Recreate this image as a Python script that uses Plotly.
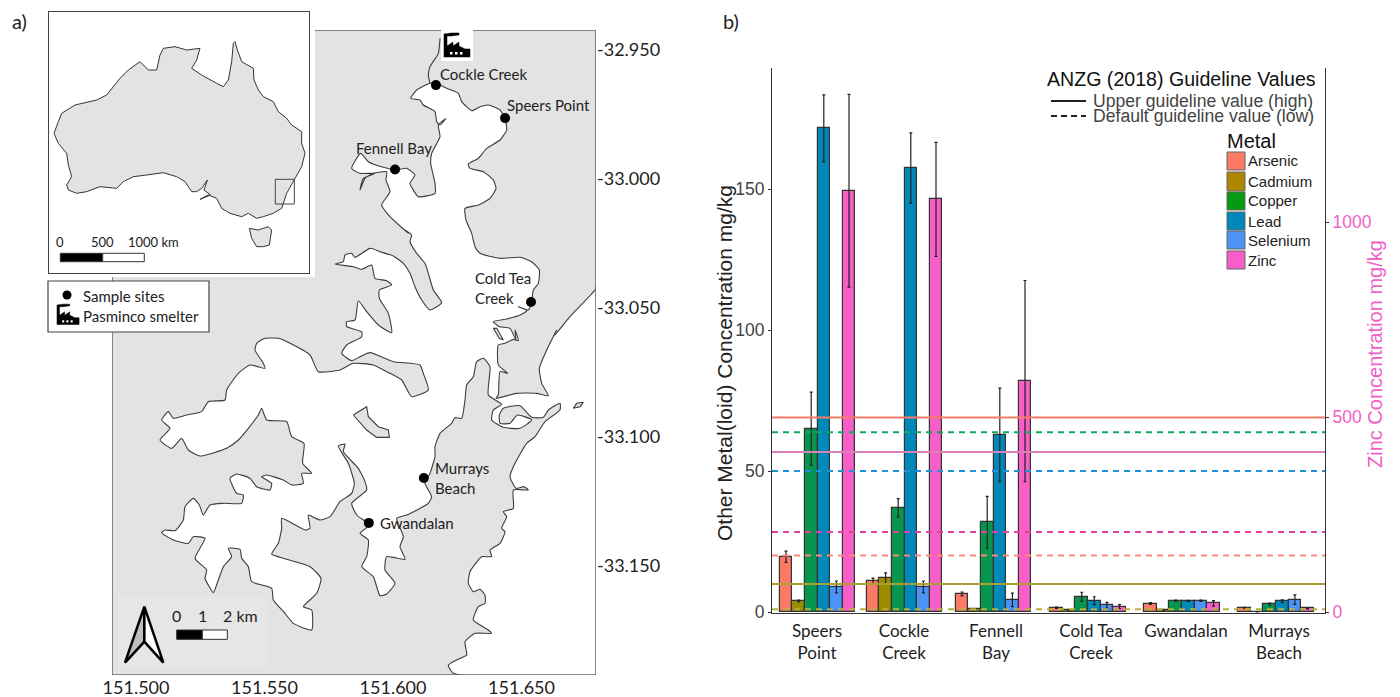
import plotly.graph_objects as go

W, H = 1400, 697

# ---------- bar chart data ----------
sites = ["Speers Point", "Cockle Creek", "Fennell Bay", "Cold Tea Creek", "Gwandalan", "Murrays Beach"]
site_ticktext = ["Speers<br>Point", "Cockle<br>Creek", "Fennell<br>Bay", "Cold Tea<br>Creek", "Gwandalan<br>&nbsp;", "Murrays<br>Beach"]
metals = ["Arsenic", "Cadmium", "Copper", "Lead", "Selenium", "Zinc"]

arsenic = [19.6, 10.9, 6.4, 1.5, 3.0, 1.5]
arsenic_err = [2.0, 1.1, 0.7, 0.2, 0.3, 0.15]
cadmium = [3.9, 12.0, 1.1, 0.7, 0.7, 0.1]
cadmium_err = [0.3, 1.9, 0.1, 0.1, 0.1, 0.05]
copper = [65.0, 36.9, 31.8, 5.4, 4.0, 2.8]
copper_err = [13.0, 3.3, 9.2, 1.6, 0.2, 0.4]
lead = [171.5, 157.4, 62.8, 4.0, 3.9, 3.8]
lead_err = [11.9, 12.5, 16.6, 1.4, 0.2, 0.5]
selenium = [8.9, 8.9, 4.3, 2.4, 4.0, 4.4]
selenium_err = [2.1, 2.1, 2.4, 1.0, 0.2, 1.7]
zinc = [1080, 1058, 592, 14, 22, 9]
zinc_err = [247, 146, 258, 5, 7, 1]

arsenic_guides = [69, 20]
cadmium_guides = [9.9, 1.0]
copper_guides = [63.7]
lead_guides = [50]
zinc_guides = [410, 205]

colors = dict(Arsenic="#fb7a66", Cadmium="#9c8c00", Copper="#07964f", Lead="#0088b8", Selenium="#4c93f5", Zinc="#f85ec8")
legend_colors = ["#fb7a66", "#ad8500", "#059a10", "#0088b8", "#4c93f5", "#f85ec8"]

# ---------- map data (digitised shoreline, image-grid points georeferenced below) ----------
site_lon = [151.6436, 151.6167, 151.6008, 151.6537, 151.5906, 151.6120]
site_lat = [-32.9764, -32.9636, -32.9963, -33.0477, -33.1333, -33.1159]

north_east = [(270,190),(290,190),(320,205),(355,220),(365,245),(395,272),(420,260),(445,255),(480,270),(495,295),(500,330),(480,360),(440,385),(415,415),(385,432),(390,445),(430,455),(460,480),(468,505),(450,535),(415,555),(375,565),(378,600),(395,640),(405,680),(420,700),(480,715),(540,712),(575,725),(598,750),(595,790),(580,810),(575,845),(565,870),(535,860),(560,872),(540,885),(500,897),(460,905),(478,920),(510,925),(528,960)]
swansea_west = [(135,0),(145,32),(130,28),(105,40),(85,45),(85,105),(113,130),(90,125),(85,195),(78,205),(140,190),(200,190),(235,197),(215,160),(208,115),(230,60),(260,0)]
ocean_top = [(640,950),(690,890),(765,810)]
east_coast = [(100,1000),(85,975),(110,960),(140,945),(135,905),(165,880),(215,880),(205,870),(160,840),(175,800),(195,790),(195,765),(180,748),(160,755),(145,730),(150,695),(185,650),(215,650),(210,630),(240,610),(255,575),(245,565),(260,530),(250,515),(280,505),(280,450),(325,450),(312,440),(288,445),(270,410),(280,380),(320,310),(345,290),(375,245),(420,210),(420,190),(385,210),(370,232),(335,232),(300,197),(250,205),(238,225),(240,250),(270,250),(292,225),(335,240),(300,265),(250,262),(215,240),(220,210),(245,193),(205,165),(210,80),(190,55),(170,65),(160,110),(140,135),(135,180),(125,235),(105,233),(95,250),(60,280),(45,320),(45,350),(30,400),(15,430),(35,470),(25,490)]
south_west = [(890,525),(860,535),(880,590),(870,620),(885,658),(830,650),(825,690),(855,730),(830,762),(810,767),(790,710),(755,680),(770,650),(775,600),(750,580),(778,555),(740,525),(725,490),(770,450),(765,425),(745,385),(700,335),(705,312),(685,318),(715,370),(733,430),(725,460),(690,485),(660,530),(630,540),(595,525),(600,565),(585,570),(515,535),(515,565),(505,610),(485,642),(520,655),(600,680),(633,715),(620,760),(580,800),(605,810),(605,870),(550,850),(525,820),(490,780),(485,745),(425,725),(415,680),(395,655),(390,628),(355,625),(365,650),(340,680),(325,720),(310,758),(295,735),(285,715),(290,690),(255,655),(285,595),(250,590),(235,610),(190,600),(155,578),(165,570),(195,572),(220,540),(225,500),(250,475),(268,495),(280,525),(300,495),(340,490),(395,490),(400,465),(380,460),(360,415),(380,402),(420,415),(440,440),(480,450),(485,430),(455,410),(470,405),(520,420),(545,435),(580,430),(575,400),(605,400),(578,370),(582,310),(545,290),(530,245),(470,240),(455,205),(445,225),(415,265),(385,300),(350,325),(270,348),(235,330),(215,295),(185,325),(150,300),(180,265),(155,240),(175,215),(190,235),(230,225),(275,215),(295,185),(345,180),(350,150),(385,100),(420,75),(465,85),(460,70),(435,30),(440,10),(465,-5),(505,-5)]
spit_a = [(0,340),(60,375),(85,425),(150,420),(190,400),(250,405),(290,425),(335,450)]
spit_b = [(905,170),(955,150)]
spit_c = [(400,430),(390,405),(310,395),(240,368),(210,380),(185,392),(155,370),(170,345),(215,320),(215,305),(170,290),(170,275),(195,270),(205,212),(230,245),(265,285),(305,308),(295,250),(268,205),(268,180),(305,165),(290,152),(255,145),(245,105),(215,118),(190,110),(135,102),(160,95),(165,75),(185,70),(195,82),(240,55),(270,65),(310,78),(340,100),(360,130),(375,170),(395,210),(420,240),(455,218),(430,180),(415,130),(405,100),(380,70),(360,35),(365,15),(345,0)]
north_west = [(205,640),(150,590),(125,555),(150,515),(138,480),(140,455),(100,460),(75,475),(60,510),(70,475),(105,460),(60,460),(35,445),(62,400),(85,425),(130,442),(165,450),(200,445),(225,465),(210,490),(235,530),(285,520),(285,490),(272,430),(275,400),(300,350),(295,315),(318,295),(300,315),(290,305),(285,275),(250,255),(240,240),(212,235),(230,210),(270,190)]
creek = [(300,55),(295,100),(270,140),(265,165),(270,190)]
lake_island = [(730,225),(770,200),(775,230),(805,260),(835,270),(838,292),(800,292),(770,270),(730,225)]
ocean_island = [(460,205),(470,190),(490,187),(480,200),(460,205)]
sliver = [(460,925),(470,925),(490,960),(478,955),(460,925)]

# ---------- inset data ----------
australia = [(705,125),(712,150),(725,185),(760,205),(762,240),(775,270),(790,290),(820,305),(835,335),(860,355),(875,375),(905,395),(905,430),(915,460),(905,500),(885,535),(860,580),(845,625),(820,640),(790,650),(770,655),(745,640),(725,650),(690,640),(665,625),(650,595),(625,585),(600,598),(632,585),(612,570),(622,540),(605,565),(590,575),(575,575),(555,545),(530,530),(490,518),(440,525),(400,530),(370,545),(350,565),(300,560),(260,575),(230,580),(205,570),(200,555),(215,530),(205,495),(200,460),(175,430),(162,400),(175,365),(185,340),(225,315),(290,300),(320,285),(340,260),(360,235),(385,210),(420,185),(445,210),(470,210),(480,165),(490,145),(525,140),(560,150),(600,145),(590,180),(575,205),(605,225),(650,250),(670,260),(685,240),(695,185),(700,130),(705,125)]
tasmania = [(748,685),(775,690),(805,680),(815,690),(808,735),(790,740),(770,740),(755,715),(748,685)]
study_box = [(826,538),(883,538),(883,612),(826,612),(826,538)]


# ---------- georeferencing ----------
def lon_of(px):
    return 151.5 + (px - 136) / 2570


def lat_of(py):
    return -32.95 - (py - 50) / 2580


def geo(segments):
    xs, ys = [], []
    for ox, oy, pts in segments:
        for zx, zy in pts:
            xs.append(lon_of(ox + zx / 3))
            ys.append(lat_of(oy + zy / 3))
    return xs, ys


Z2, Z3, Z4, Z8, Z9 = (340, 20), (110, 340), (420, 340), (290, 230), (470, 330)
water_x, water_y = geo([
    (*Z2, north_east), (*Z9, swansea_west), (*Z2, ocean_top),
    (596, 0, [(0, 860)]), (596, 0, [(0, 2025)]), (*Z4, east_coast),
    (*Z3, south_west), (*Z8, spit_a), (*Z3, spit_b), (*Z8, spit_c), (*Z2, north_west),
])
creek_x, creek_y = geo([(*Z2, creek)])
li_x, li_y = geo([(*Z3, lake_island)])
oi_x, oi_y = geo([(*Z4, ocean_island)])
sl_x, sl_y = geo([(*Z2, sliver)])
land_x, land_y = geo([(0, 0, [(945, 90), (1788, 90), (1788, 2025), (336, 2025), (336, 831), (945, 831), (945, 90)])])
frame_x, frame_y = geo([(0, 0, [(945, 90), (1788, 90), (1788, 2025), (336, 2025), (336, 831)])])


def ilon(zx):
    return 113 + (zx - 162) / 18.6


def ilat(zy):
    return -10.7 - (zy - 125) / 18.7


def inset_xy(pts):
    return [ilon(p[0]) for p in pts], [ilat(p[1]) for p in pts]


# ---------- helpers ----------
def xp(px):
    return px / W


def yp(py):
    return 1 - py / H


def rect(x0, y0, x1, y1, fill, line="#444", lw=1):
    return dict(type="rect", xref="paper", yref="paper", x0=xp(x0), x1=xp(x1), y0=yp(y1), y1=yp(y0),
                fillcolor=fill, line=dict(color=line, width=lw), layer="above")


def poly(points, fill, line="black", lw=1):
    d = "M" + " L".join(f"{xp(x):.5f},{yp(y):.5f}" for x, y in points) + " Z"
    return dict(type="path", xref="paper", yref="paper", path=d, fillcolor=fill,
                line=dict(color=line, width=lw), layer="above")


def label(px, py, text, size=15, color="#222", family="Lato", xanchor="left", angle=0):
    if xanchor == "left":
        px -= 2
    return dict(xref="paper", yref="paper", x=xp(px), y=yp(py), text=text, showarrow=False, xanchor=xanchor,
                yanchor="middle", textangle=angle, align="left", font=dict(family=family, size=size, color=color))


def factory(ox, oy, s=1.0):
    body = [(0, 0), (3, 0), (3, 12), (9, 8), (9, 12), (15, 8), (15, 12), (21, 15), (26, 15), (26, 23), (0, 23)]
    smoke = [(1, 0), (7, -1), (15, -1), (15, 1), (7, 2), (1, 2)]
    out = [poly([(ox + x * s, oy + y * s) for x, y in body], "black", "black", 0.5),
           poly([(ox + x * s, oy + y * s) for x, y in smoke], "black", "black", 0.5)]
    for wx in (6, 11, 16):
        out.append(rect(ox + wx * s, oy + 18 * s, ox + (wx + 2.5) * s, oy + 20.5 * s, "white", "white", 0))
    return out


fig = go.Figure()

# ---------- chart: axes x / y (left), y2 (Zinc), y3 (guides over bars) ----------
AX0, AX1 = 772, 1325
group_centres = [817.5, 904.5, 993.5, 1088, 1182, 1276]
tick_centres = [817, 904, 996, 1091, 1186, 1279]
BAR_W = 12.6
series = [("Arsenic", arsenic, arsenic_err), ("Cadmium", cadmium, cadmium_err), ("Copper", copper, copper_err),
          ("Lead", lead, lead_err), ("Selenium", selenium, selenium_err), ("Zinc", zinc, zinc_err)]
for i, (name, vals, errs) in enumerate(series):
    off = (i - 3) * BAR_W
    fig.add_trace(go.Bar(
        x=group_centres, y=vals, name=name, marker=dict(color=colors[name], line=dict(color="#333", width=1.2)),
        width=BAR_W, offset=off,
        error_y=dict(type="data", array=errs, color="#222", thickness=1.2, width=1.5),
        yaxis="y2" if name == "Zinc" else "y", xaxis="x", showlegend=False))

SCALE = 0.39 / 2.82
guide_sets = [(arsenic_guides, ["#fb7a66", "#fb8a78"], ["solid", "dash"], 1), (cadmium_guides, ["#a8a030", "#b8b040"], ["solid", "dash"], 1),
              (copper_guides, ["#10a860"], ["dash"], 1), (lead_guides, ["#2090d8"], ["dash"], 1),
              (zinc_guides, ["#dc80b8", "#e040a0"], ["solid", "dash"], SCALE)]
for vals, cols, dashes, k in guide_sets:
    for v, c, d in zip(vals, cols, dashes):
        fig.add_trace(go.Scatter(x=[AX0, AX1], y=[v * k, v * k], mode="lines", yaxis="y3", xaxis="x", showlegend=False,
                                 line=dict(color=c, width=2, dash="6px,5px" if d == "dash" else "solid")))

# ---------- main map ----------
MX, MY = "x2", "y4"
SMOOTH = dict(shape="spline", smoothing=0.5)
fig.add_trace(go.Scatter(x=land_x, y=land_y, mode="lines", fill="toself", fillcolor="#e3e3e3", line=dict(width=0),
                         xaxis=MX, yaxis=MY, showlegend=False))
fig.add_trace(go.Scatter(x=water_x, y=water_y, mode="lines", fill="toself", fillcolor="white",
                         line=dict(color="#3c3c3c", width=1.1, **SMOOTH), xaxis=MX, yaxis=MY, showlegend=False))
for ax_, ay_ in [(li_x, li_y), (oi_x, oi_y), (sl_x, sl_y)]:
    fig.add_trace(go.Scatter(x=ax_, y=ay_, mode="lines", fill="toself", fillcolor="#e3e3e3",
                             line=dict(color="#3c3c3c", width=1.1), xaxis=MX, yaxis=MY, showlegend=False))
fig.add_trace(go.Scatter(x=creek_x, y=creek_y, mode="lines", line=dict(color="#3c3c3c", width=1.1, **SMOOTH),
                         xaxis=MX, yaxis=MY, showlegend=False))
fig.add_trace(go.Scatter(x=frame_x, y=frame_y, mode="lines", line=dict(color="#666", width=1.5),
                         xaxis=MX, yaxis=MY, showlegend=False))
fig.add_trace(go.Scatter(x=site_lon, y=site_lat, mode="markers", marker=dict(color="black", size=10), text=sites,
                         xaxis=MX, yaxis=MY, showlegend=False))

# ---------- inset ----------
IX, IY = "x3", "y5"
for pts, fill in [(australia, "#e3e3e3"), (tasmania, "#e3e3e3")]:
    ax_, ay_ = inset_xy(pts)
    fig.add_trace(go.Scatter(x=ax_, y=ay_, mode="lines", fill="toself", fillcolor=fill,
                             line=dict(color="#333", width=1), xaxis=IX, yaxis=IY, showlegend=False))
ax_, ay_ = inset_xy(study_box)
fig.add_trace(go.Scatter(x=ax_, y=ay_, mode="lines", line=dict(color="#444", width=1), xaxis=IX, yaxis=IY, showlegend=False))

# ---------- layout ----------
SY0, SY1 = 68, 613
MAPL, MAPR, MAPT, MAPB = 112, 596, 30, 675
IL, IR, IT, IB = 49, 309, 12, 273
layout = dict(
    width=W, height=H, autosize=False, margin=dict(l=0, r=0, t=0, b=0, autoexpand=False), paper_bgcolor="white", plot_bgcolor="rgba(0,0,0,0)",
    hovermode=False, bargap=0,
    xaxis=dict(domain=[xp(AX0), xp(AX1)], range=[AX0, AX1], tickmode="array", tickvals=tick_centres, ticktext=site_ticktext,
               showgrid=False, zeroline=False, showline=True, linecolor="#333", linewidth=1.2, ticks="", anchor="y", automargin=False,
               ticklabelstandoff=2, tickfont=dict(family="Lato", size=17, color="#222")),
    yaxis=dict(domain=[yp(SY1), yp(SY0)], range=[(612 - SY1) / 2.82, (612 - SY0) / 2.82], tickvals=[0, 50, 100, 150], automargin=False,
               showgrid=False, zeroline=False, showline=True, linecolor="#333", linewidth=1.2, ticks="outside", ticklen=3,
               tickcolor="#333", tickfont=dict(family="Liberation Sans", size=17.5, color="#444"), anchor="x"),
    yaxis2=dict(domain=[yp(SY1), yp(SY0)], overlaying="y", side="right", range=[(612 - SY1) / 0.39, (612 - SY0) / 0.39], automargin=False,
                tickvals=[0, 500, 1000], showgrid=False, zeroline=False, showline=True, linecolor="#333", linewidth=1.2,
                ticks="outside", ticklen=3, tickcolor="#333", tickfont=dict(family="Liberation Sans", size=17.5, color="#f060c8"),
                anchor="x"),
    yaxis3=dict(domain=[yp(SY1), yp(SY0)], overlaying="y", range=[(612 - SY1) / 2.82, (612 - SY0) / 2.82], visible=False, anchor="x"),
    xaxis2=dict(domain=[xp(MAPL), xp(MAPR)], range=[lon_of(MAPL), lon_of(MAPR)], tickvals=[151.5, 151.55, 151.6, 151.65], automargin=False,
                ticktext=["151.500", "151.550", "151.600", "151.650"], showgrid=False, zeroline=False, ticks="",
                tickfont=dict(family="Lato", size=18, color="#222"), anchor="y4"),
    yaxis4=dict(domain=[yp(MAPB), yp(MAPT)], range=[lat_of(MAPB), lat_of(MAPT)], tickvals=[-32.95, -33.0, -33.05, -33.1, -33.15], automargin=False,
                ticktext=["-32.950", "-33.000", "-33.050", "-33.100", "-33.150"], side="right", showgrid=False, zeroline=False,
                ticks="", tickfont=dict(family="Lato", size=18, color="#222"), anchor="x2"),
    xaxis3=dict(domain=[xp(IL), xp(IR)], range=[ilon(IL * 3), ilon(IR * 3)], showticklabels=False, ticks="", showgrid=False,
                zeroline=False, showline=True, mirror=True, linecolor="#444", linewidth=1.2, anchor="y5"),
    yaxis5=dict(domain=[yp(IB), yp(IT)], range=[ilat(IB * 3), ilat(IT * 3)], showticklabels=False, ticks="", showgrid=False,
                zeroline=False, showline=True, mirror=True, linecolor="#444", linewidth=1.2, anchor="x3"),
)

shapes = []
# inset scale bar
shapes += [rect(60.3, 253.3, 102.7, 261.7, "black", "#333", 1), rect(102.7, 253.3, 144.3, 261.7, "white", "#333", 1)]
# map legend box
shapes += [rect(48, 281, 209, 332, "white", "#444", 1.2),
           dict(type="circle", xref="paper", yref="paper", x0=xp(62.5), x1=xp(71.5), y0=yp(299.5), y1=yp(290.5),
                fillcolor="black", line=dict(width=0), layer="above")]
shapes += factory(57, 305, 0.85)
# smelter icon on map
shapes += [rect(441, 30, 473, 61, "white", "white", 0)]
shapes += factory(444, 34, 1.0)
# north-arrow panel
shapes += [rect(118, 596, 266, 668, "#e6e6e6", "#e6e6e6", 0)]
AX, AY = 110, 340
shapes += [poly([(AX + 103 / 3, AY + 800 / 3), (AX + 45 / 3, AY + 968 / 3), (AX + 103 / 3, AY + 905 / 3)], "#bdbdbd", "black", 2.5),
           poly([(AX + 103 / 3, AY + 800 / 3), (AX + 160 / 3, AY + 968 / 3), (AX + 103 / 3, AY + 905 / 3)], "white", "black", 2.5)]
shapes += [rect(AX + 200 / 3, AY + 870 / 3, AX + 277 / 3, AY + 898 / 3, "black", "#333", 1),
           rect(AX + 277 / 3, AY + 870 / 3, AX + 352 / 3, AY + 898 / 3, "white", "#333", 1)]
# chart legend
shapes += [dict(type="line", xref="paper", yref="paper", x0=xp(1051), x1=xp(1086), y0=yp(101), y1=yp(101),
                line=dict(color="#222", width=2), layer="above"),
           dict(type="line", xref="paper", yref="paper", x0=xp(1051), x1=xp(1086), y0=yp(116), y1=yp(116),
                line=dict(color="#222", width=2, dash="6px,4px"), layer="above")]
rows = [(152, 170), (172, 191), (192, 210), (212, 230), (231, 249), (251, 269)]
for (r0, r1), c in zip(rows, legend_colors):
    shapes.append(rect(1227, r0, 1245, r1, c, "#666", 1))

ann = [
    label(12, 21, "a)", 20), label(723, 21, "b)", 20),
    label(60, 242, "0", 13, xanchor="center"), label(102, 242, "500", 13, xanchor="center"), label(153, 242, "1000 km", 13, xanchor="center"),
    label(83, 296, "Sample sites", 15), label(83, 316, "Pasminco smelter", 15),
    label(440, 74, "Cockle Creek", 15), label(507, 105, "Speers Point", 15), label(356, 148, "Fennell Bay", 15),
    label(475, 278, "Cold Tea", 15), label(475, 298, "Creek", 15),
    label(435, 468, "Murrays", 15), label(435, 488, "Beach", 15), label(380, 523, "Gwandalan", 15),
    label(176, 615, "0", 16, xanchor="center"), label(202, 615, "1", 16, xanchor="center"), label(240, 615, "2 km", 16, xanchor="center"),
    label(725, 363, "Other Metal(loid) Concentration mg/kg", 21, "#222", "Liberation Sans", "center", -90),
    label(1375, 354, "Zinc Concentration mg/kg", 20, "#f060c8", "Liberation Sans", "center", -90),
    label(1047, 79, "ANZG (2018) Guideline Values", 19.6, "#111", "Liberation Sans"),
    label(1093, 101, "Upper guideline value (high)", 17.6, "#444", "Liberation Sans"),
    label(1093, 116, "Default guideline value (low)", 17.6, "#444", "Liberation Sans"),
    label(1227, 141, "Metal", 20, "#111", "Liberation Sans"),
]
for (r0, r1), m in zip(rows, metals):
    ann.append(label(1248, (r0 + r1) / 2, m, 15, "#222", "Liberation Sans"))

layout["shapes"] = shapes
layout["annotations"] = ann
fig.update_layout(**layout)
fig.write_html("out.html", post_script="document.body.style.margin='0';document.documentElement.style.overflow='hidden';",
               config={"displayModeBar": False})
